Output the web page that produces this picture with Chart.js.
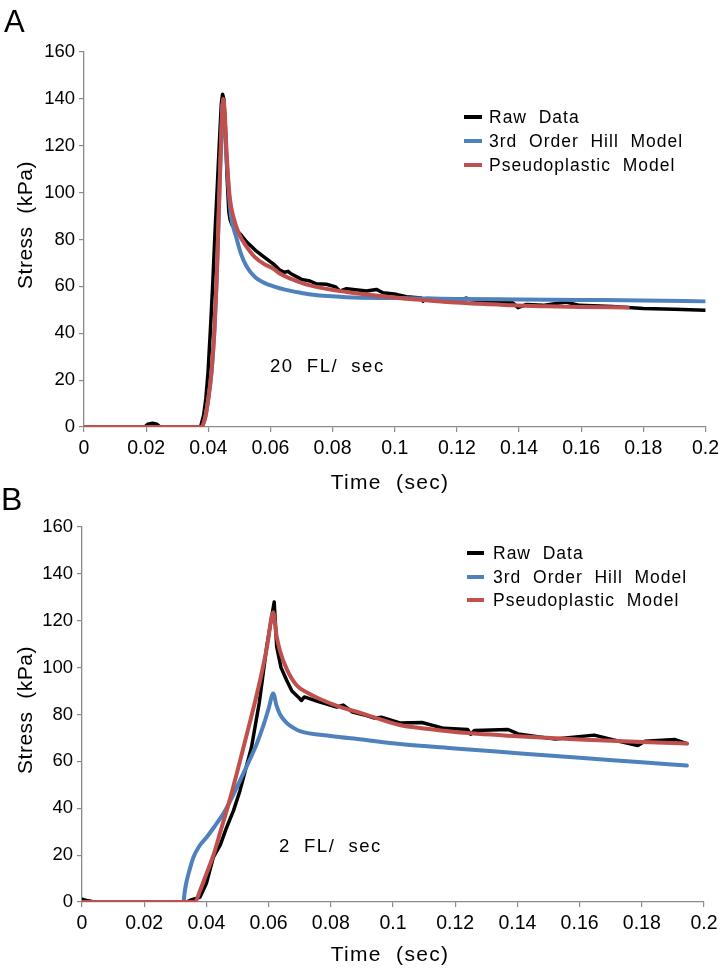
<!DOCTYPE html>
<html><head><meta charset="utf-8">
<script src="https://cdn.jsdelivr.net/npm/chart.js@4.4.1/dist/chart.umd.min.js"></script>
<style>
html,body{margin:0;padding:0;background:#fff;width:724px;height:972px;overflow:hidden}
canvas{position:absolute;left:0}
#ca{top:0}
#cb{top:480px}
</style></head><body>
<canvas id="ca" width="724" height="500"></canvas>
<canvas id="cb" width="724" height="492"></canvas>
<script>
// ---------- data (time in s, stress in kPa) ----------
const seriesNames = ['Raw  Data', '3rd  Order  Hill  Model', 'Pseudoplastic  Model'];
const xTicks = [0, 0.02, 0.04, 0.06, 0.08, 0.1, 0.12, 0.14, 0.16, 0.18, 0.2];
const yTicks = [0, 20, 40, 60, 80, 100, 120, 140, 160];

// Panel A : 20 FL/sec
const rawA = [[0,0],[0.0195,0],[0.0205,1.2],[0.022,1.6],[0.0235,1.2],[0.0245,0],[0.0375,0],[0.0385,5],[0.0392,12],[0.0399,23],[0.0407,42],[0.0415,63],[0.0422,84],[0.043,105.5],[0.0437,125],[0.0442,138],[0.0446,142],[0.045,140],[0.0455,128],[0.046,108],[0.0466,92],[0.047,88.5],[0.0477,86],[0.049,84],[0.0505,82],[0.0523,79],[0.0555,75],[0.058,72.5],[0.061,69.5],[0.063,67],[0.0645,66],[0.0657,66.4],[0.0665,65.5],[0.07,63],[0.0727,62.3],[0.0748,61.1],[0.078,60.9],[0.081,59.8],[0.0823,58],[0.0845,59],[0.0909,58],[0.0941,58.7],[0.0962,57.3],[0.1005,56.6],[0.1038,55.6],[0.1085,55],[0.1091,53.7],[0.1102,54.8],[0.118,54.6],[0.1215,54.4],[0.123,55],[0.1245,54.3],[0.1273,54],[0.138,53],[0.1397,50.9],[0.1424,52.3],[0.1477,51.9],[0.1552,53.3],[0.1595,51.9],[0.17,51.4],[0.18,50.6],[0.19,50.2],[0.2,49.8]];
const hillA = [[0,0],[0.0378,0],[0.039,4],[0.04,12],[0.041,23],[0.042,42],[0.0427,63],[0.0432,84],[0.0437,105],[0.0442,125],[0.0446,138],[0.0451,132],[0.0457,118],[0.0465,102],[0.0473,90],[0.049,81],[0.0505,74],[0.0523,68.6],[0.055,64],[0.058,61.5],[0.061,60],[0.065,58.5],[0.07,57.2],[0.0737,56.4],[0.0845,55.4],[0.1,55],[0.12,54.6],[0.14,54.4],[0.16,54.2],[0.18,54],[0.2,53.6]];
const pseudoA = [[0,0],[0.0378,0],[0.039,4],[0.04,12],[0.041,23],[0.042,42],[0.0427,63],[0.0432,84],[0.0437,105],[0.0442,125],[0.0448,140],[0.0453,134],[0.0458,120],[0.0464,106],[0.047,97],[0.048,90],[0.05,82],[0.0523,77],[0.055,72.5],[0.058,69.5],[0.061,67.5],[0.063,65.5],[0.068,62.5],[0.0737,60.1],[0.0845,57.6],[0.0952,55.9],[0.1059,54.5],[0.1166,53.3],[0.1273,52.6],[0.138,51.9],[0.1488,51.5],[0.1595,51.2],[0.175,51]];

// Panel B : 2 FL/sec
const rawB = [[0,1.2],[0.002,0.5],[0.004,0],[0.031,0],[0.0324,-0.8],[0.0335,0],[0.0353,1],[0.0379,2],[0.04,8],[0.0422,19],[0.0445,24.5],[0.0465,31.8],[0.0487,39],[0.0508,47.5],[0.0545,66],[0.057,85],[0.0594,109],[0.0618,128],[0.0626,109],[0.064,100],[0.0658,94.6],[0.0675,90],[0.0695,87.5],[0.0706,86],[0.0715,87.5],[0.076,85.5],[0.0819,83.2],[0.084,84],[0.087,81],[0.0915,79.5],[0.094,78.5],[0.0965,78.8],[0.1022,76.4],[0.1093,76.6],[0.1164,74.1],[0.124,73.6],[0.125,71.6],[0.1262,73.2],[0.137,73.6],[0.1402,71.7],[0.1522,69.5],[0.1647,71.2],[0.1706,69.2],[0.1787,66.8],[0.181,68.6],[0.1907,69.3],[0.1945,67.6]];
const hillB = [[0,0],[0.0326,0],[0.033,4],[0.0335,8],[0.0342,11.8],[0.0358,19],[0.0378,24],[0.04,27.5],[0.0425,32],[0.0454,37.6],[0.048,44],[0.0508,51.8],[0.0535,59.5],[0.0562,67.5],[0.0585,76],[0.06,82.5],[0.0615,89],[0.0625,84],[0.0637,80],[0.0658,76.4],[0.068,74.3],[0.0701,72.9],[0.08,70.8],[0.09,69.3],[0.1022,67.4],[0.12,65.5],[0.14,63.5],[0.16,61.5],[0.18,59.6],[0.1945,58.2]];
const pseudoB = [[0,0],[0.0363,0],[0.038,5],[0.04,12],[0.0425,21],[0.0445,30],[0.0476,44],[0.05,56],[0.0525,69],[0.055,82],[0.0575,96],[0.0595,109],[0.0615,123.6],[0.0625,114],[0.0637,107],[0.0658,99.5],[0.069,92.5],[0.0725,89.3],[0.0765,86.6],[0.082,83.7],[0.09,80.5],[0.1022,75.5],[0.11,74],[0.12,72.5],[0.14,70.7],[0.16,69.3],[0.18,68.3],[0.1945,67.6]];

// ---------- styling ----------
const FONT = "'Liberation Sans', Arial, sans-serif";
const COLORS = ['#000000', '#4f81bd', '#c0504d'];
const AXIS = '#8a8a8a';

const overlay = {
  id: 'overlay',
  afterDraw(chart, args, o) {
    const ctx = chart.ctx;
    ctx.save();
    ctx.fillStyle = '#000';
    // panel letter
    ctx.font = o.letterSize + 'px ' + FONT;
    ctx.textAlign = 'left'; ctx.textBaseline = 'alphabetic';
    ctx.fillText(o.letter, o.letterX, o.letterY);
    // x title
    ctx.letterSpacing = '1.3px';
    ctx.font = '21px ' + FONT;
    ctx.textAlign = 'center'; ctx.textBaseline = 'middle';
    ctx.fillText('Time  (sec)', o.xTitle[0], o.xTitle[1]);
    // y title
    ctx.letterSpacing = '0.5px';
    ctx.save();
    ctx.translate(o.yTitle[0], o.yTitle[1]);
    ctx.rotate(-Math.PI / 2);
    ctx.fillText('Stress  (kPa)', 0, 0);
    ctx.restore();
    // annotation
    ctx.letterSpacing = '1.5px';
    ctx.font = '18.5px ' + FONT;
    ctx.textAlign = 'left';
    ctx.fillText(o.note, o.noteX, o.noteY);
    // legend
    ctx.letterSpacing = '1px';
    ctx.font = '17.5px ' + FONT;
    seriesNames.forEach((name, i) => {
      const y = o.legY[i];
      ctx.strokeStyle = COLORS[i];
      ctx.lineWidth = 4;
      ctx.beginPath();
      ctx.moveTo(o.legX[0], y); ctx.lineTo(o.legX[1], y);
      ctx.stroke();
      ctx.fillStyle = '#000';
      ctx.fillText(name, o.legX[2], y + 1);
    });
    ctx.restore();
  }
};

function pts(arr) { return arr.map(p => ({x: p[0], y: p[1]})); }

function makeChart(id, raw, hill, pseudo, geo, ov) {
  const datasets = [
    {label: seriesNames[2], data: pts(pseudo), borderColor: COLORS[2], borderWidth: 4, cubicInterpolationMode: 'monotone', order: 0},
    {label: seriesNames[1], data: pts(hill), borderColor: COLORS[1], borderWidth: 4, cubicInterpolationMode: 'monotone', order: 1},
    {label: seriesNames[0], data: pts(raw), borderColor: COLORS[0], borderWidth: 3.5, tension: 0, order: 2}
  ];
  datasets.forEach(d => { d.showLine = true; d.pointRadius = 0; d.fill = false; d.borderJoinStyle = 'round'; d.borderCapStyle = 'round'; });
  return new Chart(document.getElementById(id), {
    type: 'scatter',
    data: {datasets},
    options: {
      responsive: false, animation: false, devicePixelRatio: 1,
      layout: {padding: {left: 0, right: geo.right, top: geo.top, bottom: 0}},
      plugins: {legend: {display: false}, tooltip: {enabled: false}, overlay: ov},
      scales: {
        x: {
          type: 'linear', min: 0, max: 0.2,
          afterBuildTicks: s => { s.ticks = xTicks.map(v => ({value: v})); },
          afterFit: s => { s.height = geo.xh; },
          grid: {display: true, drawOnChartArea: false, drawTicks: true, tickLength: 5, color: AXIS, lineWidth: 1.2},
          border: {display: true, color: AXIS, width: 1.3},
          ticks: {color: '#000', font: {family: FONT, size: 19.5}, padding: 5, autoSkip: false, maxRotation: 0,
                  callback: v => String(+Number(v).toFixed(2))}
        },
        y: {
          type: 'linear', min: 0, max: 160,
          afterBuildTicks: s => { s.ticks = yTicks.map(v => ({value: v})); },
          afterFit: s => { s.width = geo.yw; },
          grid: {display: true, drawOnChartArea: false, drawTicks: true, tickLength: 5, color: AXIS, lineWidth: 1.2},
          border: {display: true, color: AXIS, width: 1.3},
          ticks: {color: '#000', font: {family: FONT, size: 18.5}, padding: 4, autoSkip: false}
        }
      }
    },
    plugins: [overlay]
  });
}

makeChart('ca', rawA, hillA, pseudoA,
  {top: 52, right: 18, xh: 73, yw: 84},
  {letter: 'A', letterSize: 31, letterX: 4, letterY: 32,
   xTitle: [390, 483], yTitle: [26, 225],
   note: '20  FL/  sec', noteX: 270, noteY: 367,
   legX: [464, 482, 489], legY: [117, 141, 165]});

makeChart('cb', rawB, hillB, pseudoB,
  {top: 47, right: 20, xh: 70, yw: 82},
  {letter: 'B', letterSize: 32, letterX: 1, letterY: 30,
   xTitle: [390, 475], yTitle: [26, 230],
   note: '2  FL/  sec', noteX: 279, noteY: 367,
   legX: [467, 484, 493], legY: [73, 97, 120]});
</script>
</body></html>
